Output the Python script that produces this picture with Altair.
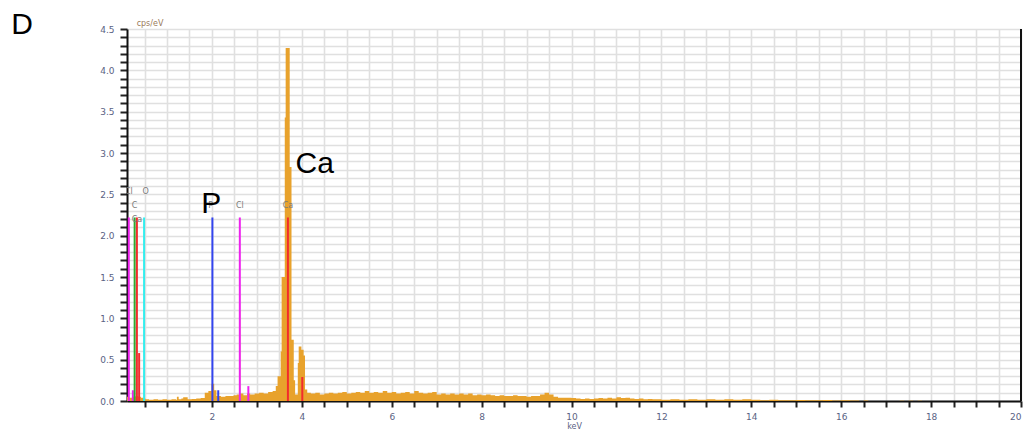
import altair as alt
import pandas as pd

# ---------------- data ----------------
# low-energy part and the Ca K peaks (step spectrum)
low_kev = [
    0.11, 0.16, 0.22, 0.30, 0.36, 0.42, 0.48, 0.52, 0.60, 0.70,
    0.80, 0.90, 1.00, 1.10, 1.20, 1.22, 1.26, 1.32, 1.36, 1.46,
    1.55, 1.65, 1.75, 1.84, 1.92, 1.99, 2.05, 2.10, 2.20, 2.30,
    2.40, 2.48, 2.55, 2.61, 2.63, 2.70, 2.78, 2.85, 2.95, 3.05,
    3.15, 3.25, 3.35, 3.42, 3.46, 3.53, 3.55, 3.62, 3.64, 3.73,
    3.77, 3.82, 3.85, 3.91, 3.93, 3.99, 4.04, 4.07, 4.12,
]
low_cps = [
    0.05, 0.04, 0.05, 0.06, 0.05, 0.04, 0.03, 0.02, 0.015, 0.02,
    0.015, 0.02, 0.015, 0.02, 0.015, 0.05, 0.02, 0.03, 0.045, 0.02,
    0.025, 0.03, 0.035, 0.10, 0.12, 0.21, 0.13, 0.06, 0.05, 0.06,
    0.06, 0.07, 0.08, 1.10, 0.09, 0.07, 0.09, 0.08, 0.09, 0.10,
    0.09, 0.11, 0.12, 0.18, 0.30, 0.60, 1.50, 3.43, 4.27, 2.83,
    0.74, 0.25, 0.08, 0.46, 0.66, 0.62, 0.55, 0.14, 0.10,
]
# background 4.2 - 9.1 keV
mid_kev = [
    4.2, 4.3, 4.4, 4.5, 4.6, 4.7, 4.8, 4.9, 5.0, 5.1,
    5.2, 5.3, 5.4, 5.5, 5.6, 5.7, 5.8, 5.9, 6.0, 6.1,
    6.2, 6.3, 6.4, 6.5, 6.6, 6.7, 6.8, 6.9, 7.0, 7.1,
    7.2, 7.3, 7.4, 7.5, 7.6, 7.7, 7.8, 7.9, 8.0, 8.1,
    8.2, 8.3, 8.4, 8.5, 8.6, 8.7, 8.8, 8.9, 9.0, 9.1,
]
mid_cps = [
    0.09, 0.10, 0.08, 0.09, 0.10, 0.09, 0.10, 0.11, 0.09, 0.10,
    0.11, 0.10, 0.12, 0.10, 0.11, 0.10, 0.12, 0.10, 0.11, 0.09,
    0.10, 0.11, 0.09, 0.12, 0.10, 0.09, 0.10, 0.11, 0.08, 0.09,
    0.08, 0.09, 0.08, 0.09, 0.08, 0.09, 0.07, 0.08, 0.07, 0.08,
    0.07, 0.06, 0.07, 0.06, 0.06, 0.07, 0.06, 0.06, 0.05, 0.06,
]
# background 9.2 - 12.0 keV
high_kev = [
    9.2, 9.3, 9.4, 9.5, 9.6, 9.7, 9.8, 9.9, 10.0, 10.1,
    10.2, 10.3, 10.4, 10.5, 10.6, 10.7, 10.8, 10.9, 11.0, 11.1,
    11.2, 11.3, 11.4, 11.5, 11.6, 11.7, 11.8, 11.9, 12.0,
]
high_cps = [
    0.06, 0.08, 0.10, 0.08, 0.05, 0.04, 0.04, 0.04, 0.035, 0.03,
    0.025, 0.03, 0.025, 0.03, 0.035, 0.03, 0.04, 0.03, 0.045, 0.035,
    0.04, 0.03, 0.025, 0.03, 0.02, 0.025, 0.02, 0.02, 0.015,
]
# tail 12.2 - 18 keV
tail_kev = [
    12.2, 12.4, 12.6, 12.8, 13.0, 13.2, 13.4, 13.6, 13.8, 14.0,
    14.2, 14.4, 14.6, 14.8, 15.0, 15.2, 15.4, 15.6, 15.8, 16.0,
    16.2, 16.4, 16.5, 16.6, 17.3, 17.4, 17.5, 17.6, 17.7, 17.8,
    18.0,
]
tail_cps = [
    0.02, 0.015, 0.02, 0.015, 0.02, 0.015, 0.02, 0.015, 0.02, 0.015,
    0.01, 0.015, 0.01, 0.008, 0.012, 0.01, 0.008, 0.012, 0.006, 0.008,
    0.005, 0.0, 0.005, 0.0, 0.004, 0.0, 0.004, 0.0, 0.004, 0.0,
    0.0,
]

line_kev = [0.15, 0.24, 0.28, 0.33, 0.38, 0.49, 2.01, 2.14, 2.62, 2.81, 3.69, 4.01]
line_cps = [2.22, 0.13, 2.22, 2.22, 0.58, 2.22, 2.22, 0.13, 2.22, 0.18, 2.22, 0.29]
line_elem = ["Cl", "Cl", "C", "Ca", "Ca", "O", "P", "P", "Cl", "Cl", "Ca", "Ca"]

elements = ["Cl", "C", "Ca", "O", "P"]
element_colors = ["#EE22EE", "#2EAA2E", "#F22C2C", "#33EEEE", "#3344EE"]

small_text = ["Cl", "O", "C", "Ca", "P", "Cl", "Ca"]
small_kev = [0.15, 0.525, 0.28, 0.33, 1.97, 2.62, 3.69]
small_cps = [2.53, 2.53, 2.36, 2.19, 2.36, 2.36, 2.36]

big_text = ["P", "Ca"]
big_kev = [1.983, 4.287]
big_cps = [2.274, 2.754]

x_ticks = [round(0.5 * i, 1) for i in range(1, 41)]
y_ticks = [round(0.1 * i, 1) for i in range(0, 46)]

# ---------------- chart ----------------
spec_df = pd.DataFrame({
    "keV": low_kev + mid_kev + high_kev + tail_kev,
    "cps": low_cps + mid_cps + high_cps + tail_cps,
})
lines_df = pd.DataFrame({"keV": line_kev, "cps": line_cps, "elem": line_elem,
                         "base": [0.0] * len(line_kev)})
small_df = pd.DataFrame({"keV": small_kev, "cps": small_cps, "t": small_text})
big_df = pd.DataFrame({"keV": big_kev, "cps": big_cps, "t": big_text})

xscale = alt.Scale(domain=[0.11, 20], nice=False, zero=False)
yscale = alt.Scale(domain=[0, 4.5], nice=False)

label_color = "#5a6283"

x_axis = alt.Axis(
    values=x_ticks, tickCount=200,
    labelExpr="datum.value % 2 == 0 ? format(datum.value, 'd') : ''",
    labelOverlap=False, labelFlush=True,
    title="keV", titleFontSize=8, titleFontWeight="normal", titleColor=label_color,
    titlePadding=1, labelFontSize=9, labelColor=label_color, labelPadding=5,
    tickSize=6, tickColor="#222", tickWidth=2, domainColor="#111", domainWidth=2,
    gridColor="#E0E0E0", gridWidth=1.6, labelFont="DejaVu Sans", titleFont="DejaVu Sans",
)
y_axis = alt.Axis(
    values=y_ticks, tickCount=200,
    labelExpr="abs(datum.value*2 - round(datum.value*2)) < 0.001 ? format(datum.value, '.1f') : ''",
    labelOverlap=False, labelFlush=False,
    title=None, labelFontSize=9, labelColor=label_color, labelPadding=6,
    tickSize=7, tickColor="#222", tickWidth=2, domainColor="#111", domainWidth=2,
    gridColor="#E0E0E0", gridWidth=1.6, labelFont="DejaVu Sans",
)

area = alt.Chart(spec_df).mark_area(
    interpolate="step-after", color="#E8A22C", opacity=1
).encode(
    x=alt.X("keV:Q", scale=xscale, axis=x_axis),
    y=alt.Y("cps:Q", scale=yscale, axis=y_axis),
)

lines = alt.Chart(lines_df).mark_rule(strokeWidth=2).encode(
    x=alt.X("keV:Q", scale=xscale),
    y=alt.Y("base:Q", scale=yscale),
    y2=alt.Y2("cps:Q"),
    color=alt.Color("elem:N", scale=alt.Scale(domain=elements, range=element_colors), legend=None),
)

small = alt.Chart(small_df).mark_text(
    fontSize=8, color="#7a7a7a", font="DejaVu Sans", clip=True, baseline="middle"
).encode(
    x=alt.X("keV:Q", scale=xscale),
    y=alt.Y("cps:Q", scale=yscale),
    text="t:N",
)

big = alt.Chart(big_df).mark_text(
    fontSize=30, color="#000", font="Liberation Sans", baseline="alphabetic"
).encode(
    x=alt.X("keV:Q", scale=xscale),
    y=alt.Y("cps:Q", scale=yscale),
    text="t:N",
)

frame_df = pd.DataFrame({"v": [20.0], "y0": [0.0], "y1": [4.5]})
right_edge = alt.Chart(frame_df).mark_rule(color="#111", strokeWidth=2).encode(
    x=alt.X("v:Q", scale=xscale),
    y=alt.Y("y0:Q", scale=yscale),
    y2="y1:Q",
)

annot_df = pd.DataFrame({"t": ["D"]})
panel_letter = alt.Chart(annot_df).mark_text(
    fontSize=30, color="#000", font="Liberation Sans", baseline="alphabetic"
).encode(x=alt.value(-105), y=alt.value(5), text="t:N")

unit_df = pd.DataFrame({"t": ["cps/eV"]})
unit_label = alt.Chart(unit_df).mark_text(
    fontSize=8, color="#9a7a5a", font="DejaVu Sans", baseline="alphabetic"
).encode(x=alt.value(23), y=alt.value(-3), text="t:N")

chart = alt.layer(
    area, lines, small, big, right_edge, panel_letter, unit_label
).properties(
    width=894, height=372,
    autosize=alt.AutoSizeParams(type="none"),
    padding={"left": 119, "top": 21, "right": 2, "bottom": 29},
).configure_view(stroke=None)

chart.save("out.html", embed_options={"renderer": "svg", "actions": False})
